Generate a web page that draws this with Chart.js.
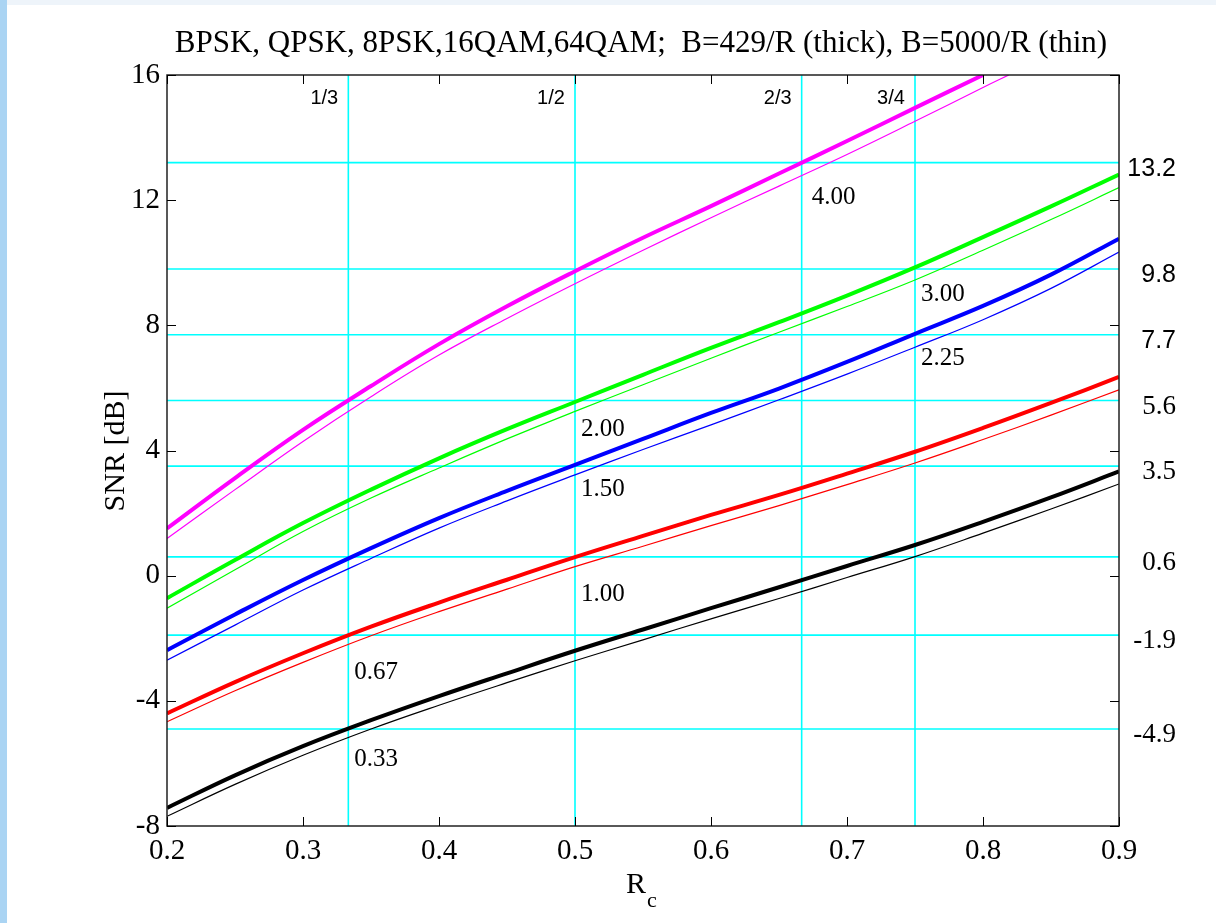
<!DOCTYPE html>
<html>
<head>
<meta charset="utf-8">
<title>SNR vs Rc</title>
<script src="https://cdn.jsdelivr.net/npm/chart.js@4.4.1/dist/chart.umd.min.js"></script>
<style>
  html, body { margin: 0; padding: 0; background: #fff; }
  #wrap { position: relative; width: 1216px; height: 923px; overflow: hidden; }
  #leftband { position: absolute; left: 0; top: 0; width: 7px; height: 923px; background: #aad4f3; }
  #topband { position: absolute; left: 0; top: 0; width: 1216px; height: 5px; background: #eef4fa; }
  #chart { position: absolute; left: 0; top: 0; }
</style>
</head>
<body>
<div id="wrap">
  <div id="topband"></div>
  <div id="leftband"></div>
  <canvas id="chart" width="1216" height="923"></canvas>
</div>
<script>
// code rate axis
const rc = [0.2, 0.25, 0.3, 0.35, 0.4, 0.45, 0.5, 0.55, 0.6, 0.65, 0.7, 0.75, 0.8, 0.85, 0.9]
const rc64Thick = [0.2, 0.25, 0.3, 0.35, 0.4, 0.45, 0.5, 0.55, 0.6, 0.65, 0.7, 0.75, 0.8]
const rc64Thin = [0.2, 0.25, 0.3, 0.35, 0.4, 0.45, 0.5, 0.55, 0.6, 0.65, 0.7, 0.75, 0.8, 0.819]

// SNR [dB], thick = B=429/R, thin = B=5000/R
const qam64Thick = [1.51, 3.12, 4.66, 6.06, 7.40, 8.61, 9.73, 10.80, 11.81, 12.85, 13.89, 14.95, 16.00]
const qam64Thin = [1.19, 2.75, 4.29, 5.72, 7.05, 8.22, 9.33, 10.40, 11.44, 12.45, 13.46, 14.52, 15.60, 16.00]
const qam16Thick = [-0.72, 0.50, 1.68, 2.75, 3.75, 4.68, 5.55, 6.42, 7.28, 8.10, 8.95, 9.85, 10.82, 11.80, 12.82]
const qam16Thin = [-1.04, 0.19, 1.41, 2.48, 3.44, 4.37, 5.25, 6.10, 6.95, 7.78, 8.60, 9.45, 10.40, 11.38, 12.40]
const psk8Thick = [-2.38, -1.24, -0.14, 0.88, 1.84, 2.71, 3.54, 4.37, 5.20, 5.98, 6.83, 7.73, 8.62, 9.62, 10.77]
const psk8Thin = [-2.70, -1.58, -0.46, 0.55, 1.52, 2.39, 3.22, 4.03, 4.82, 5.62, 6.44, 7.30, 8.18, 9.18, 10.34]
const qpskThick = [-4.40, -3.40, -2.48, -1.63, -0.86, -0.13, 0.59, 1.27, 1.94, 2.58, 3.26, 3.96, 4.72, 5.52, 6.35]
const qpskThin = [-4.67, -3.68, -2.77, -1.92, -1.15, -0.43, 0.29, 0.94, 1.60, 2.24, 2.91, 3.60, 4.35, 5.13, 5.94]
const bpskThick = [-7.42, -6.38, -5.45, -4.62, -3.85, -3.12, -2.40, -1.72, -1.04, -0.37, 0.31, 0.98, 1.72, 2.50, 3.33]
const bpskThin = [-7.69, -6.67, -5.74, -4.90, -4.14, -3.42, -2.72, -2.05, -1.38, -0.73, -0.06, 0.61, 1.36, 2.13, 2.93]

// cyan reference lines and their labels
const gridRc = [1 / 3, 1 / 2, 2 / 3, 3 / 4]
const gridRcLabels = ["1/3", "1/2", "2/3", "3/4"]
const gridSNR = [13.2, 9.8, 7.7, 5.6, 3.5, 0.6, -1.9, -4.9]
const gridSNRLabels = ["13.2", "9.8", "7.7", "5.6", "3.5", "0.6", "-1.9", "-4.9"]

// spectral efficiency annotations (Rc * log2 M)
const effLabels = ["4.00", "3.00", "2.25", "2.00", "1.50", "1.00", "0.67", "0.33"]
const effRc = [2 / 3, 3 / 4, 3 / 4, 1 / 2, 1 / 2, 1 / 2, 1 / 3, 1 / 3]
const effSNR = [12.1, 8.98, 6.93, 4.66, 2.77, -0.59, -3.08, -5.87]

const SERIF = "'Liberation Serif', 'Times New Roman', serif"
const SANS = "'Liberation Sans', Arial, sans-serif"

function pts(xs, ys) {
  return ys.map((y, i) => ({ x: xs[i], y: y }))
}

function line(data, color, thick) {
  return {
    data: data,
    borderColor: color,
    borderWidth: thick ? 4 : 1.2,
    pointRadius: 0,
    tension: 0.4,
    fill: false,
  }
}

const datasets = [
  line(pts(rc64Thin, qam64Thin), "#ff00ff", false),
  line(pts(rc64Thick, qam64Thick), "#ff00ff", true),
  line(pts(rc, qam16Thin), "#00ff00", false),
  line(pts(rc, qam16Thick), "#00ff00", true),
  line(pts(rc, psk8Thin), "#0000ff", false),
  line(pts(rc, psk8Thick), "#0000ff", true),
  line(pts(rc, qpskThin), "#ff0000", false),
  line(pts(rc, qpskThick), "#ff0000", true),
  line(pts(rc, bpskThin), "#000000", false),
  line(pts(rc, bpskThick), "#000000", true),
]

const decor = {
  id: "decor",
  beforeDatasetsDraw(chart) {
    const { ctx, chartArea: a, scales } = chart
    ctx.save()
    ctx.strokeStyle = "#00ffff"
    ctx.lineWidth = 1.6
    gridSNR.forEach((v) => {
      const y = scales.y.getPixelForValue(v)
      ctx.beginPath(); ctx.moveTo(a.left, y); ctx.lineTo(a.right, y); ctx.stroke()
    })
    gridRc.forEach((v) => {
      const x = scales.x.getPixelForValue(v)
      ctx.beginPath(); ctx.moveTo(x, a.top); ctx.lineTo(x, a.bottom); ctx.stroke()
    })
    ctx.restore()
  },
  afterDatasetsDraw(chart) {
    const { ctx, chartArea: a, scales } = chart
    ctx.save()
    // frame
    ctx.strokeStyle = "#222"
    ctx.lineWidth = 1.5
    ctx.strokeRect(a.left, a.top, a.right - a.left, a.bottom - a.top)

    // inward ticks
    ctx.lineWidth = 1
    ctx.strokeStyle = "#000"
    scales.y.ticks.forEach((t) => {
      const y = Math.round(scales.y.getPixelForValue(t.value)) + 0.5
      ctx.beginPath()
      ctx.moveTo(a.left, y); ctx.lineTo(a.left + 9, y)
      ctx.moveTo(a.right, y); ctx.lineTo(a.right - 9, y)
      ctx.stroke()
    })
    scales.x.ticks.forEach((t) => {
      const x = Math.round(scales.x.getPixelForValue(t.value)) + 0.5
      ctx.beginPath()
      ctx.moveTo(x, a.bottom); ctx.lineTo(x, a.bottom - 9)
      ctx.moveTo(x, a.top); ctx.lineTo(x, a.top + 9)
      ctx.stroke()
    })

    ctx.fillStyle = "#000"
    // rate labels along the top
    ctx.font = "20px " + SANS
    ctx.textAlign = "center"
    ctx.textBaseline = "middle"
    gridRc.forEach((v, i) => {
      ctx.fillText(gridRcLabels[i], scales.x.getPixelForValue(v) - 24, a.top + 23)
    })

    // SNR labels on the right
    ctx.textAlign = "right"
    gridSNR.forEach((v, i) => {
      ctx.font = i < 3 ? "25px " + SANS : "27px " + SERIF
      ctx.fillText(gridSNRLabels[i], 1176, scales.y.getPixelForValue(v) + 6)
    })

    // efficiency labels
    ctx.font = "25px " + SERIF
    ctx.textAlign = "left"
    effLabels.forEach((s, i) => {
      const dx = i === 0 ? 10 : 6
      ctx.fillText(s, scales.x.getPixelForValue(effRc[i]) + dx, scales.y.getPixelForValue(effSNR[i]))
    })

    // title
    ctx.font = "31px " + SERIF
    ctx.textAlign = "center"
    ctx.textBaseline = "alphabetic"
    ctx.fillText("BPSK, QPSK, 8PSK,16QAM,64QAM;  B=429/R (thick), B=5000/R (thin)", 641, 52)

    // x title R_c
    ctx.font = "30px " + SERIF
    ctx.textAlign = "left"
    ctx.fillText("R", 626, 893)
    ctx.font = "22px " + SERIF
    ctx.fillText("c", 647, 907)

    // y title
    ctx.font = "30px " + SERIF
    ctx.translate(124, 451)
    ctx.rotate(-Math.PI / 2)
    ctx.textAlign = "center"
    ctx.fillText("SNR [dB]", 0, 0)
    ctx.restore()
  },
}

const ctx = document.getElementById("chart").getContext("2d")
new Chart(ctx, {
  type: "line",
  data: { datasets: datasets },
  options: {
    responsive: false,
    animation: false,
    events: [],
    layout: { padding: { left: 0, right: 97, top: 75, bottom: 0 } },
    plugins: { legend: { display: false }, tooltip: { enabled: false }, title: { display: false } },
    scales: {
      x: {
        type: "linear",
        min: 0.2,
        max: 0.9,
        afterFit: (s) => { s.height = 97 },
        grid: { display: false, drawTicks: false },
        border: { display: false },
        ticks: {
          stepSize: 0.1,
          autoSkip: false,
          maxRotation: 0,
          padding: 8,
          color: "#000",
          font: { family: SERIF, size: 29 },
          callback: (v) => v.toFixed(1),
        },
      },
      y: {
        min: -8,
        max: 16,
        afterFit: (s) => { s.width = 167 },
        grid: { display: false, drawTicks: false },
        border: { display: false },
        ticks: {
          stepSize: 4,
          padding: 7,
          color: "#000",
          font: { family: SERIF, size: 29 },
        },
      },
    },
  },
  plugins: [decor],
})
</script>
</body>
</html>
